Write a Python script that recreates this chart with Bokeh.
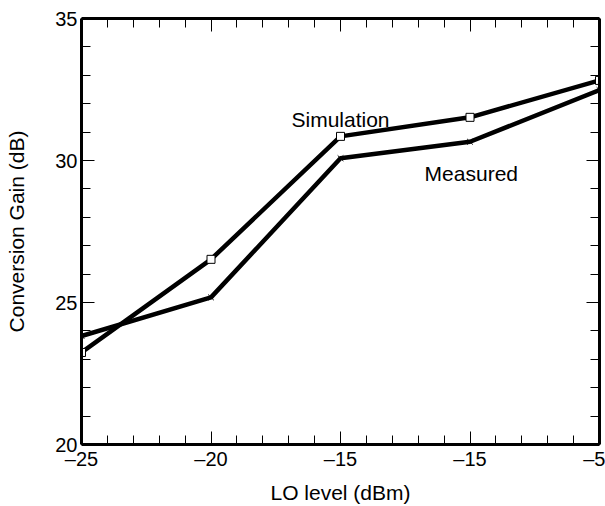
from bokeh.plotting import figure
from bokeh.models import Range1d, FixedTicker, LinearAxis, Label, CustomJSTickFormatter
from bokeh.embed import file_html
from bokeh.resources import INLINE

# Data
x_pos = [0, 1, 2, 3, 4]
x_labels = ["–25", "–20", "–15", "–15", "–5"]
simulation = [23.24, 26.52, 30.85, 31.52, 32.82]
measured = [23.82, 25.18, 30.08, 30.66, 32.48]
y_ticks = [20, 25, 30, 35]

FONT = "Liberation Sans"

p = figure(width=605, height=506, output_backend="svg", toolbar_location=None,
           x_range=Range1d(0, 4), y_range=Range1d(20, 35),
           min_border_left=81, min_border_top=18, min_border_right=6, min_border_bottom=62)
p.xgrid.visible = False
p.ygrid.visible = False
p.outline_line_color = None
p.background_fill_color = "white"

x_minor = [i / 5 for i in range(0, 21)]
y_minor = [20 + i for i in range(0, 16)]
xt = FixedTicker(ticks=x_pos, minor_ticks=x_minor)
yt = FixedTicker(ticks=y_ticks, minor_ticks=y_minor)

def style(ax):
    ax.axis_line_width = 3
    ax.axis_line_color = "black"
    ax.major_tick_in = 13
    ax.major_tick_out = 0
    ax.minor_tick_in = 9
    ax.minor_tick_out = 0
    ax.major_tick_line_color = "black"
    ax.minor_tick_line_color = "black"
    ax.major_tick_line_width = 1
    ax.minor_tick_line_width = 1
    ax.major_label_text_font = FONT
    ax.major_label_text_font_size = "20px"
    ax.major_label_text_color = "black"
    ax.axis_label_text_font = FONT
    ax.axis_label_text_font_size = "21px"
    ax.axis_label_text_font_style = "normal"
    ax.axis_label_text_color = "black"

p.xaxis.ticker = xt
p.yaxis.ticker = yt
p.xaxis.major_label_overrides = {i: s for i, s in zip(x_pos, x_labels)}
style(p.xaxis[0])
style(p.yaxis[0])
p.xaxis.axis_label = "LO level (dBm)"
p.yaxis.axis_label = "Conversion Gain (dB)"
p.xaxis.major_label_standoff = 3
p.yaxis.major_label_standoff = 4
p.xaxis.axis_label_standoff = 8
p.yaxis.axis_label_standoff = 24

top = LinearAxis(ticker=FixedTicker(ticks=x_pos, minor_ticks=x_minor),
                 formatter=CustomJSTickFormatter(code="return '';"))
style(top)
p.add_layout(top, "above")
right = LinearAxis(ticker=FixedTicker(ticks=y_ticks, minor_ticks=y_minor),
                   formatter=CustomJSTickFormatter(code="return '';"))
style(right)
p.add_layout(right, "right")

p.line(x_pos, simulation, line_width=4.5, line_color="black")
p.line(x_pos, measured, line_width=4.5, line_color="black")
p.scatter(x_pos, simulation, marker="square", size=8, fill_color="white", line_color="black", line_width=1)
p.scatter(x_pos, measured, marker="x", size=8, line_color="black", line_width=1)

p.add_layout(Label(x=2.0, y=31.44, text="Simulation", text_align="center", text_baseline="alphabetic",
                   text_font=FONT, text_font_size="21px", text_color="black"))
p.add_layout(Label(x=3.01, y=29.54, text="Measured", text_align="center", text_baseline="alphabetic",
                   text_font=FONT, text_font_size="21px", text_color="black"))

open("out.html", "w").write(file_html(p, INLINE))
